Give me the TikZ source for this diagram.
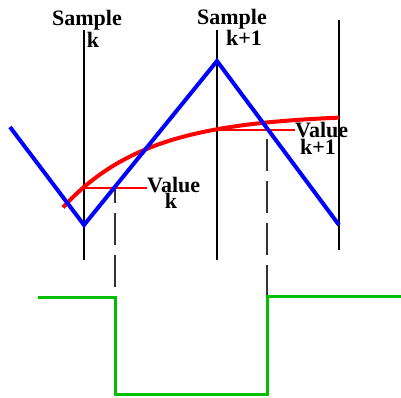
\documentclass[tikz,border=0pt]{standalone}
\usepackage{fontspec}
\setmainfont{Liberation Serif}
\begin{document}
\begin{tikzpicture}[x=1pt,y=-1pt,
  lbl/.style={font=\fontsize{22}{20}\selectfont\bfseries, inner sep=0pt, anchor=base},
  vline/.style={black, line width=1.3pt},
  dline/.style={draw=black!80, line width=1.8pt, dash pattern=on 32pt off 10pt},
  wave/.style={blue, line width=4pt, line join=miter},
  filt/.style={red, line width=4pt},
  level/.style={red, line width=1.2pt},
  pwm/.style={green!75!black, line width=3pt}]
\useasboundingbox (0,0) rectangle (401,398);
% text
\node[lbl] (s1) at (87,26) {Sample};
\node[lbl] (k1) at (93,48) {k};
\node[lbl] (s2) at (232,25) {Sample};
\node[lbl] (k2) at (244,46) {k+1};
\node[lbl, anchor=base west] (v1) at (147,192) {Value};
\node[lbl] (vk1) at (171,208) {k};
\node[lbl, anchor=base west] (v2) at (295,138) {Value};
\node[lbl] (vk2) at (318,154) {k+1};
% verticals
\coordinate (a1) at (84,30); \coordinate (a2) at (84,260);
\coordinate (b1) at (217,30); \coordinate (b2) at (217,260);
\coordinate (c1) at (339,20); \coordinate (c2) at (339,250);
\draw[vline] (a1) -- (a2);
\draw[vline] (b1) -- (b2);
\draw[vline] (c1) -- (c2);
% dashed
\coordinate (d1t) at (115,187); \coordinate (d1b) at (115,287);
\coordinate (d2t) at (267,130); \coordinate (d2b) at (267,297);
\draw[dline] (d1b) -- (d1t);
\draw[dline] (d2b) -- (d2t);
% red levels
\coordinate (l1) at (84,188);
\coordinate (l2) at (217,130);
\draw[level] (l1) -- (v1.west |- l1);
\draw[level] (l2) -- (v2.west |- l2);
% red curve
\draw[filt] plot[domain=63:339, samples=60, smooth] (\x, {114+73*exp(-(\x-84)/85)});
% blue triangle wave
\coordinate (w0) at (10,127);
\coordinate (w1) at (84,225);
\coordinate (w2) at (217,61);
\coordinate (w3) at (339,225);
\draw[wave] (w0) -- (w1) -- (w2) -- (w3);
% green pwm
\coordinate (g0) at (38,297);
\coordinate (g1) at (115,297);
\coordinate (g2) at (115,394);
\coordinate (g3) at (267,394);
\coordinate (g4) at (267,296);
\coordinate (g5) at (401,296);
\draw[pwm] (g0) -- (g1) -- (g2) -- (g3) -- (g4) -- (g5);
\end{tikzpicture}
\end{document}
